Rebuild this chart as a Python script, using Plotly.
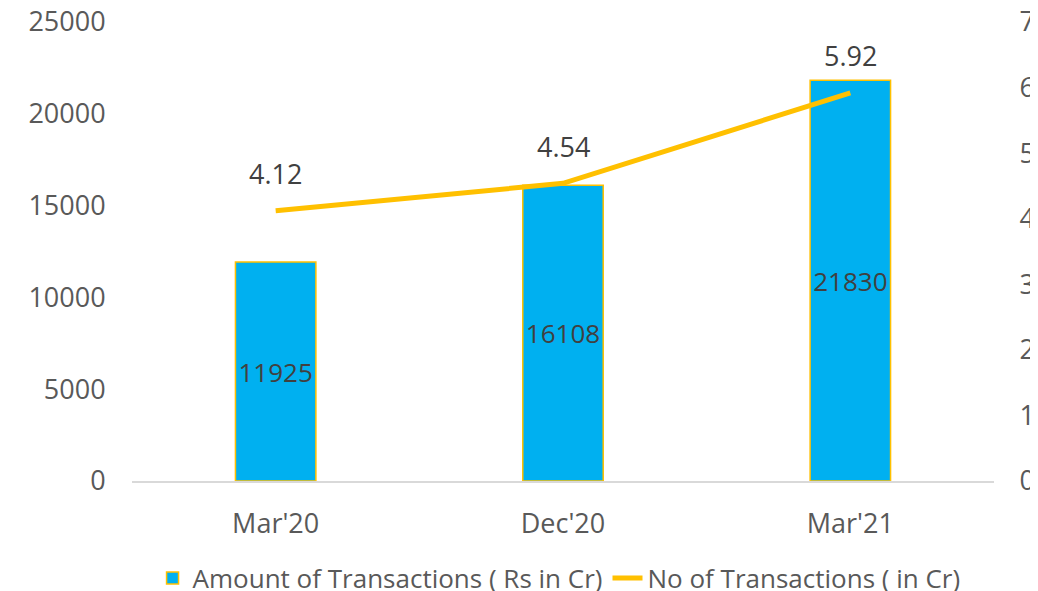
import plotly.graph_objects as go

categories = ["Mar'20", "Dec'20", "Mar'21"]
amount = [11925, 16108, 21830]
count = [4.12, 4.54, 5.92]
left_ticks = [0, 5000, 10000, 15000, 20000, 25000]
right_ticks = [0, 1, 2, 3, 4, 5, 6, 7]

FONT = "Open Sans"
TXT = "#595959"
FS = 27

fig = go.Figure()
fig.add_trace(go.Bar(
    x=categories, y=amount, name="Amount of Transactions ( Rs in Cr)",
    marker=dict(color="#00B0F0", line=dict(color="#FFC000", width=1.5)),
    text=[str(v) for v in amount], textposition="inside", insidetextanchor="middle",
    textfont=dict(family=FONT, size=FS, color="#404040"), textangle=0,
    width=0.28, yaxis="y", cliponaxis=False,
))
fig.add_trace(go.Scatter(
    x=categories, y=count, name="No of Transactions ( in Cr)", mode="lines",
    line=dict(color="#FFC000", width=5), yaxis="y2",
))
for c, v in zip(categories, count):
    fig.add_annotation(x=c, y=v, xref="x", yref="y2", text=f"{v:.2f}", showarrow=False,
                       yshift=37, font=dict(family=FONT, size=FS, color="#404040"))

fig.update_layout(
    width=1030, height=583,
    margin=dict(l=124, r=44, t=14, b=110, autoexpand=False),
    paper_bgcolor="white", plot_bgcolor="white",
    font=dict(family=FONT, size=FS, color=TXT),
    showlegend=True,
    legend=dict(orientation="h", xref="container", x=0.535, xanchor="center",
                yref="container", y=0.022, yanchor="middle",
                font=dict(family=FONT, size=26, color=TXT),
                itemwidth=30, tracegroupgap=0),
    xaxis=dict(showgrid=False, showline=True, linecolor="#D9D9D9", linewidth=2,
               ticks="outside", ticklen=18, tickcolor="rgba(0,0,0,0)", automargin=False,
               tickfont=dict(family=FONT, size=FS, color=TXT)),
    yaxis=dict(range=[0, 25000], tickvals=left_ticks, ticktext=[str(t) for t in left_ticks],
               showgrid=False, zeroline=False, automargin=False, ticklabeloverflow="allow",
               ticks="outside", ticklen=20, tickcolor="rgba(0,0,0,0)",
               tickfont=dict(family=FONT, size=FS, color=TXT)),
    yaxis2=dict(range=[0, 7], tickvals=right_ticks, overlaying="y", side="right",
                showgrid=False, zeroline=False, ticks="outside", ticklen=19, automargin=False,
                tickcolor="rgba(0,0,0,0)", ticklabeloverflow="allow",
                tickfont=dict(family=FONT, size=FS, color=TXT)),
)
fig.write_html("out.html")
